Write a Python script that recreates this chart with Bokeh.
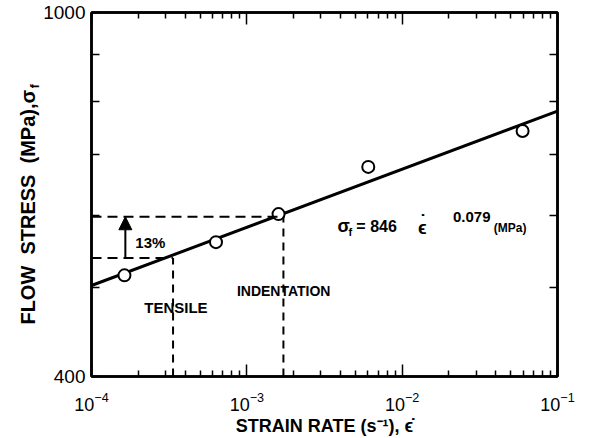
import math
from bokeh.plotting import figure
from bokeh.layouts import row
from bokeh.models import (Range1d, FixedTicker, LogAxis, Label, Arrow, NormalHead,
                          CustomJSTickFormatter)
from bokeh.core.properties import value
from bokeh.embed import file_html
from bokeh.resources import INLINE

# ---------------- data ----------------
rate = [1.63e-4, 6.33e-4, 1.60e-3, 6.05e-3, 5.96e-2]     # strain rate, 1/s
stress = [516, 561, 602, 678, 742]                       # flow stress, MPa
fit_rate = [1e-4, 1e-1]
fit_stress = [503, 780]
tensile_rate = 3.35e-4
tensile_stress = 539
indent_rate = 1.72e-3
indent_stress = 598
x_major = [1e-4, 1e-3, 1e-2, 1e-1]
x_minor = [k * 10.0 ** e for e in (-4, -3, -2) for k in range(2, 10)]
y_major = [400, 1000]
y_minor = [500, 600, 700, 800, 900]
X0, X1 = 1e-4, 1e-1
Y0, Y1 = 400, 1000
y_title = "FLOW\u00a0\u00a0STRESS\u00a0\u00a0(MPa),σ"
y_title_sub = "f"

# ---------------- layout ----------------
TW = 40                      # width of the side strip holding the y title
W, H = 585 - TW, 438
BL, BR, BT, BB = 89 - TW, 28, 12, 58
FW = W - BL - BR
FH = H - BT - BB
FONT = "Liberation Sans"


def fx(px):
    return 10 ** (math.log10(X0) + px / FW * math.log10(X1 / X0))


def fy(py):
    return Y1 * (Y0 / Y1) ** (py / FH)


p = figure(width=W, height=H, x_axis_type="log", y_axis_type="log",
           x_range=Range1d(X0, X1), y_range=Range1d(Y0, Y1),
           output_backend="svg", toolbar_location=None,
           min_border_left=BL, min_border_right=BR,
           min_border_top=BT, min_border_bottom=BB)
p.grid.visible = False
p.outline_line_color = "black"
p.outline_line_width = 2.5
p.background_fill_color = "white"
p.border_fill_color = "white"

xticker = FixedTicker(ticks=x_major, minor_ticks=x_minor)
yticker = FixedTicker(ticks=y_major, minor_ticks=y_minor)
blank = CustomJSTickFormatter(code="return ''")


def style(ax, major_in, minor_in):
    ax.axis_line_width = 2.5
    ax.axis_line_color = "black"
    ax.major_tick_in = major_in
    ax.major_tick_out = 0
    ax.minor_tick_in = minor_in
    ax.minor_tick_out = 0
    ax.major_tick_line_width = 1.5
    ax.minor_tick_line_width = 1.5
    ax.major_tick_line_color = "black"
    ax.minor_tick_line_color = "black"


xb = p.xaxis[0]
xb.ticker = xticker
style(xb, 12, 6)
xb.major_label_text_font = FONT
xb.major_label_text_font_size = "18px"
xb.major_label_text_color = "black"
xb.major_label_standoff = 15
xb.axis_label = "STRAIN RATE (s⁻¹), ϵ̇"
xb.axis_label_text_font = FONT
xb.axis_label_text_font_size = "18px"
xb.axis_label_text_font_style = "bold"
xb.axis_label_text_color = "black"
xb.axis_label_standoff = 2

yl = p.yaxis[0]
yl.ticker = yticker
style(yl, 8, 8)
yl.major_label_text_font = FONT
yl.major_label_text_font_size = "19px"
yl.major_label_text_color = "black"
yl.major_label_standoff = 6

top = LogAxis(ticker=xticker, formatter=blank, major_label_standoff=0)
style(top, 12, 6)
p.add_layout(top, "above")
right = LogAxis(ticker=yticker, formatter=blank, major_label_standoff=0)
style(right, 8, 8)
p.add_layout(right, "right")

# ---------------- marks ----------------
p.line(fit_rate, fit_stress, line_width=3, line_color="black")
p.scatter(rate, stress, marker="circle", size=12, fill_color="white",
          line_color="black", line_width=2)

for r, s in ((tensile_rate, tensile_stress), (indent_rate, indent_stress)):
    p.line([X0, r], [s, s], line_width=2, line_color="black", line_dash="10 6")
    p.line([r, r], [Y0, s], line_width=2, line_color="black", line_dash="8 6")

arrow_x = fx(34)
p.add_layout(Arrow(end=NormalHead(size=13, fill_color="black", line_color="black"),
                   x_start=arrow_x, y_start=tensile_stress,
                   x_end=arrow_x, y_end=indent_stress,
                   line_width=2, line_color="black"))


def lab(px, py, text, size, bold=True, align="left", **kw):
    p.add_layout(Label(x=fx(px), y=fy(py), text=text, text_font=FONT,
                       text_font_size=f"{size}px",
                       text_font_style="bold" if bold else "normal",
                       text_align=align, text_baseline="middle",
                       text_color="black", **kw))


lab(44, 233, "13%", 15)
lab(53, 298, "TENSILE", 15)
lab(146, 282, "INDENTATION", 14)
# equation
lab(247, 216, "σ", 18)
lab(258, 222, "f", 11)
lab(266, 216, "= 846", 16)
lab(328, 218, "ϵ", 18)
lab(330, 212, "˙", 18)
lab(363, 207, "0.079", 15)
lab(404, 218, "(MPa)", 12)

# ---------------- side strip with the y-axis title ----------------
t = figure(width=TW, height=H, x_range=Range1d(0, TW), y_range=Range1d(0, H),
           output_backend="svg", toolbar_location=None,
           min_border=0, min_border_left=0, min_border_right=0,
           min_border_top=0, min_border_bottom=0)
t.axis.visible = False
t.grid.visible = False
t.outline_line_color = None
t.background_fill_color = "white"
t.border_fill_color = "white"
t.text(x=[27], y=[H - 93], text=[y_title], angle=math.pi / 2,
       text_font=value(FONT), text_font_size="20px", text_font_style="bold",
       text_align="right", text_baseline="middle", text_color="black")
t.text(x=[34], y=[H - 91], text=[y_title_sub], angle=math.pi / 2,
       text_font=value(FONT), text_font_size="12px", text_font_style="bold",
       text_align="left", text_baseline="alphabetic", text_color="black")

layout = row(t, p, spacing=0)
open("out.html", "w").write(file_html(layout, INLINE))
